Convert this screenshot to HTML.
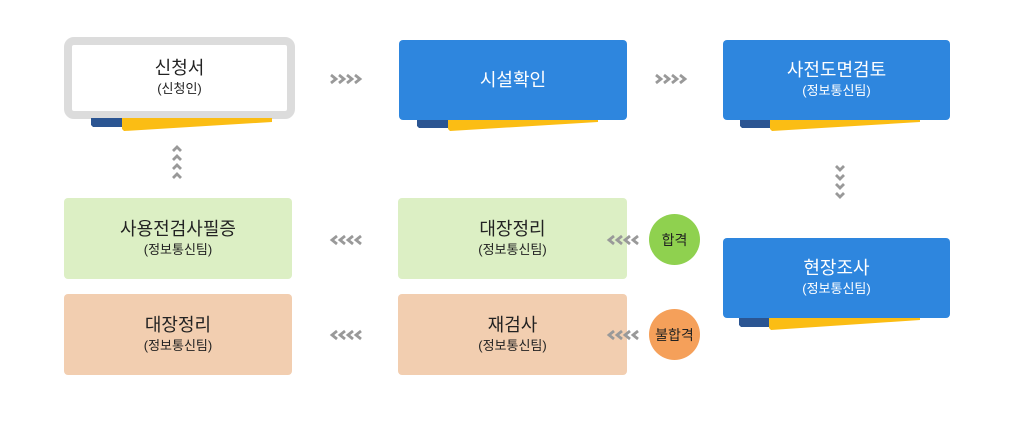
<!DOCTYPE html>
<html><head><meta charset="utf-8"><style>
body{margin:0;width:1026px;height:427px;background:#fff;position:relative;overflow:hidden;font-family:"Liberation Sans","Noto Sans CJK KR",sans-serif}
.b{position:absolute;box-sizing:border-box;border-radius:4px;display:flex;flex-direction:column;align-items:center;justify-content:center;color:#222}
.t{font-size:18px;line-height:22px}
.s{font-size:13px;line-height:20px}
.blue{background:#2e86de;color:#fff}
.green{background:#dcefc4}
.peach{background:#f2ceb0}
.c{position:absolute;border-radius:50%;display:flex;align-items:center;justify-content:center;font-size:14px;color:#222}
svg{position:absolute;left:0;top:0;z-index:2}
</style></head><body>
<svg width="1026" height="427">
<g>
<polygon points="91,118 122,118 122,127 93,127 91,125" fill="#2b5592"/>
<polygon points="122,118 272,118 272,122 124,131 122,129" fill="#fbbd14"/>
<polygon points="417,120 448,120 448,128 419,128 417,126" fill="#2b5592"/>
<polygon points="448,120 598,120 598,122 450,131 448,129" fill="#fbbd14"/>
<polygon points="740,120 770,120 770,128 742,128 740,126" fill="#2b5592"/>
<polygon points="770,120 920,120 920,122 772,131 770,129" fill="#fbbd14"/>
<polygon points="739,318 769,318 769,327 741,327 739,325" fill="#2b5592"/>
<polygon points="769,318 920,318 920,320 771,330 769,328" fill="#fbbd14"/>
</g>
<g fill="none" stroke="#999" stroke-width="2.8">
<path d="M331,75l5,4l-5,4 M339,75l5,4l-5,4 M347,75l5,4l-5,4 M355,75l5,4l-5,4"/>
<path d="M656,75l5,4l-5,4 M664,75l5,4l-5,4 M672,75l5,4l-5,4 M680,75l5,4l-5,4"/>
<path d="M361,236l-5,4l5,4 M353,236l-5,4l5,4 M345,236l-5,4l5,4 M337,236l-5,4l5,4"/>
<path d="M361,331l-5,4l5,4 M353,331l-5,4l5,4 M345,331l-5,4l5,4 M337,331l-5,4l5,4"/>
<path d="M638,236l-5,4l5,4 M630,236l-5,4l5,4 M622,236l-5,4l5,4 M614,236l-5,4l5,4"/>
<path d="M638,331l-5,4l5,4 M630,331l-5,4l5,4 M622,331l-5,4l5,4 M614,331l-5,4l5,4"/>
<path d="M173,151l4,-4l4,4 M173,160l4,-4l4,4 M173,169l4,-4l4,4 M173,178l4,-4l4,4"/>
<path d="M836,166l4,4l4,-4 M836,175l4,4l4,-4 M836,184l4,4l4,-4 M836,193l4,4l4,-4"/>
</g>
</svg>
<div class="b" style="left:64px;top:37px;width:231px;height:82px;border:8px solid #dcdcdc;border-radius:10px;background:#fff"><div class="t">신청서</div><div class="s">(신청인)</div></div>
<div class="b blue" style="left:399px;top:40px;width:228px;height:80px"><div class="t">시설확인</div></div>
<div class="b blue" style="left:723px;top:40px;width:227px;height:80px"><div class="t">사전도면검토</div><div class="s">(정보통신팀)</div></div>
<div class="b blue" style="left:723px;top:238px;width:227px;height:80px"><div class="t">현장조사</div><div class="s">(정보통신팀)</div></div>
<div class="b green" style="left:64px;top:198px;width:228px;height:81px"><div class="t">사용전검사필증</div><div class="s">(정보통신팀)</div></div>
<div class="b green" style="left:398px;top:198px;width:229px;height:81px"><div class="t">대장정리</div><div class="s">(정보통신팀)</div></div>
<div class="b peach" style="left:64px;top:294px;width:228px;height:81px"><div class="t">대장정리</div><div class="s">(정보통신팀)</div></div>
<div class="b peach" style="left:398px;top:294px;width:229px;height:81px"><div class="t">재검사</div><div class="s">(정보통신팀)</div></div>
<div class="c" style="left:649px;top:214px;width:51px;height:51px;background:#8fd14f">합격</div>
<div class="c" style="left:649px;top:309px;width:51px;height:51px;background:#f5a05a">불합격</div>
</body></html>
